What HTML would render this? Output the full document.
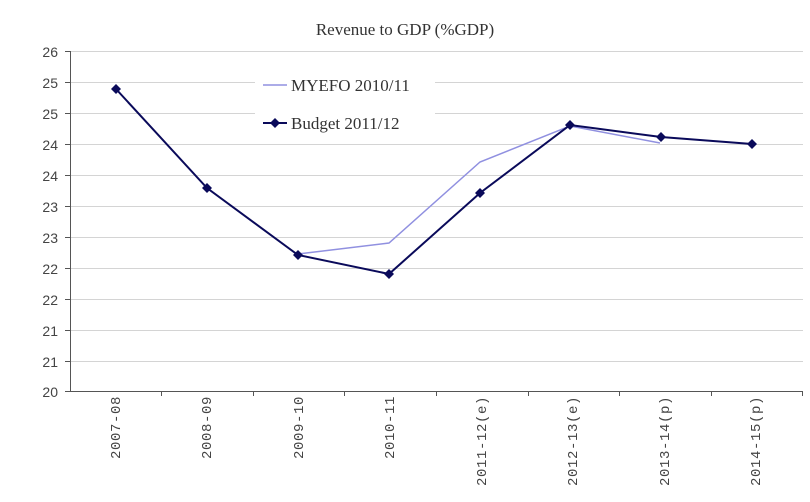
<!DOCTYPE html>
<html><head><style>body{margin:0;background:#fff}</style></head><body>
<svg width="810" height="497" xmlns="http://www.w3.org/2000/svg" font-family="Liberation Sans, sans-serif">
<rect width="810" height="497" fill="#fff"/>
<text x="405" y="35" text-anchor="middle" font-size="17" fill="#333" font-family="Liberation Serif, serif">Revenue to GDP (%GDP)</text>
<g stroke="#d4d4d4" stroke-width="1">
<line x1="70" x2="803" y1="51.5" y2="51.5"/><line x1="70" x2="803" y1="82.5" y2="82.5"/>
<line x1="70" x2="803" y1="113.5" y2="113.5"/><line x1="70" x2="803" y1="144.5" y2="144.5"/>
<line x1="70" x2="803" y1="175.5" y2="175.5"/><line x1="70" x2="803" y1="206.5" y2="206.5"/>
<line x1="70" x2="803" y1="237.5" y2="237.5"/><line x1="70" x2="803" y1="268.5" y2="268.5"/>
<line x1="70" x2="803" y1="299.5" y2="299.5"/><line x1="70" x2="803" y1="330.5" y2="330.5"/>
<line x1="70" x2="803" y1="361.5" y2="361.5"/>
</g>
<rect x="255" y="70" width="180" height="66" fill="#fff"/>
<g stroke="#555" stroke-width="1">
<line x1="70.5" x2="70.5" y1="51" y2="392"/>
<line x1="70" x2="803" y1="391.5" y2="391.5"/>
<line x1="65" x2="70" y1="51.5" y2="51.5"/><line x1="65" x2="70" y1="82.5" y2="82.5"/><line x1="65" x2="70" y1="113.5" y2="113.5"/><line x1="65" x2="70" y1="144.5" y2="144.5"/><line x1="65" x2="70" y1="175.5" y2="175.5"/><line x1="65" x2="70" y1="206.5" y2="206.5"/><line x1="65" x2="70" y1="237.5" y2="237.5"/><line x1="65" x2="70" y1="268.5" y2="268.5"/><line x1="65" x2="70" y1="299.5" y2="299.5"/><line x1="65" x2="70" y1="330.5" y2="330.5"/><line x1="65" x2="70" y1="361.5" y2="361.5"/><line x1="65" x2="70" y1="391.5" y2="391.5"/>
<line x1="161.5" x2="161.5" y1="391" y2="396"/><line x1="253.5" x2="253.5" y1="391" y2="396"/><line x1="344.5" x2="344.5" y1="391" y2="396"/><line x1="436.5" x2="436.5" y1="391" y2="396"/><line x1="528.5" x2="528.5" y1="391" y2="396"/><line x1="619.5" x2="619.5" y1="391" y2="396"/><line x1="711.5" x2="711.5" y1="391" y2="396"/><line x1="802.5" x2="802.5" y1="391" y2="396"/>
</g>
<g font-size="14" fill="#444" text-anchor="end">
<text x="58" y="57">26</text><text x="58" y="88">25</text><text x="58" y="119">25</text><text x="58" y="150">24</text><text x="58" y="181">24</text><text x="58" y="212">23</text><text x="58" y="243">23</text><text x="58" y="274">22</text><text x="58" y="305">22</text><text x="58" y="336">21</text><text x="58" y="367">21</text><text x="58" y="397">20</text>
</g>
<g font-size="14" fill="#444" text-anchor="end" font-family="Liberation Mono, monospace" letter-spacing="0.6">
<text transform="translate(120,396) rotate(-90)">2007-08</text>
<text transform="translate(211,396) rotate(-90)">2008-09</text>
<text transform="translate(303,396) rotate(-90)">2009-10</text>
<text transform="translate(394,396) rotate(-90)">2010-11</text>
<text transform="translate(486,396) rotate(-90)">2011-12(e)</text>
<text transform="translate(577,396) rotate(-90)">2012-13(e)</text>
<text transform="translate(669,396) rotate(-90)">2013-14(p)</text>
<text transform="translate(760,396) rotate(-90)">2014-15(p)</text>
</g>
<polyline fill="none" stroke="#9090e0" stroke-width="1.5" points="298,254 389,243 480,162 570,126 660,143"/>
<polyline fill="none" stroke="#0a0a5a" stroke-width="2" points="116,89 207,188 298,255 389,274 480,193 570,125 661,137 752,144"/>
<g fill="#0a0a5a">
<path d="M116,84l5,5l-5,5l-5,-5z"/><path d="M207,183l5,5l-5,5l-5,-5z"/><path d="M298,250l5,5l-5,5l-5,-5z"/><path d="M389,269l5,5l-5,5l-5,-5z"/><path d="M480,188l5,5l-5,5l-5,-5z"/><path d="M570,120l5,5l-5,5l-5,-5z"/><path d="M661,132l5,5l-5,5l-5,-5z"/><path d="M752,139l5,5l-5,5l-5,-5z"/>
</g>
<line x1="263" x2="287" y1="85" y2="85" stroke="#9090e0" stroke-width="1.5"/>
<text x="291" y="91" font-size="17" fill="#333" font-family="Liberation Serif, serif">MYEFO 2010/11</text>
<line x1="263" x2="287" y1="123" y2="123" stroke="#0a0a5a" stroke-width="2"/>
<path d="M275,118l5,5l-5,5l-5,-5z" fill="#0a0a5a"/>
<text x="291" y="129" font-size="17" fill="#333" font-family="Liberation Serif, serif">Budget 2011/12</text>
</svg>
</body></html>
